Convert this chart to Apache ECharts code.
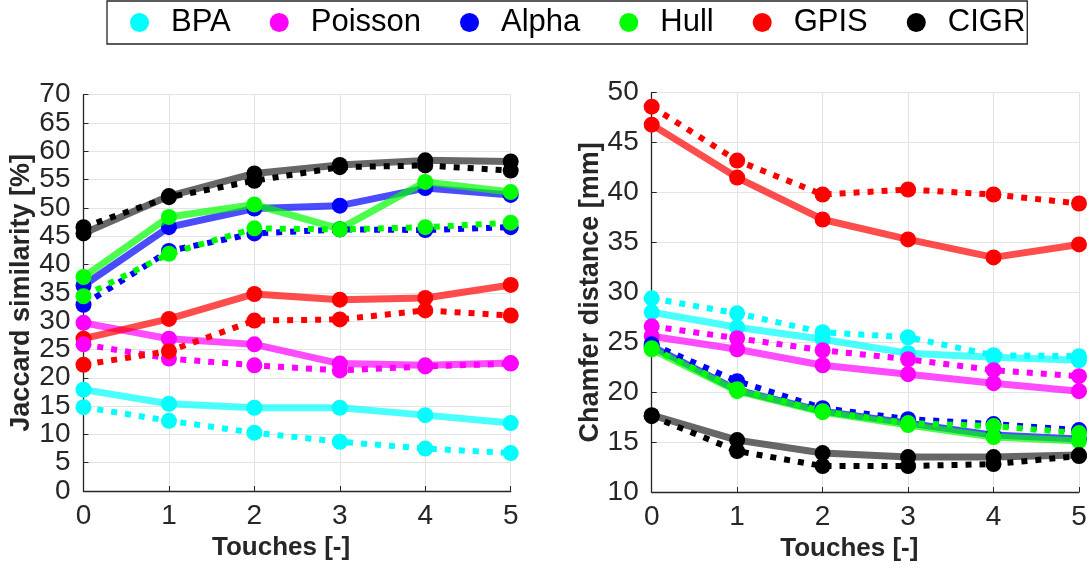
<!DOCTYPE html>
<html>
<head>
<meta charset="utf-8">
<script src="https://cdn.jsdelivr.net/npm/echarts@6/dist/echarts.min.js"></script>
<style>
html,body{margin:0;padding:0;background:#fff;}
#chart{width:1090px;height:569px;}
</style>
</head>
<body>
<div id="chart"></div>
<script>
const touches = [0, 1, 2, 3, 4, 5];
const methods = ['BPA', 'Poisson', 'Alpha', 'Hull', 'GPIS', 'CIGR'];
const colors = ['#00FFFF', '#FF00FF', '#0000FF', '#00FF00', '#FF0000', '#000000'];
const solidLineColors = ['#00FFFF', '#FF00FF', '#0000FF', '#00FF00', '#FF0000', '#262626'];

// Jaccard similarity [%] (left) — solid and dotted
const jaccardSolid = {
  BPA:     [17.9, 15.4, 14.7, 14.7, 13.4, 12.0],
  Poisson: [29.7, 26.9, 25.9, 22.5, 22.2, 22.6],
  Alpha:   [36.3, 46.6, 49.9, 50.4, 53.5, 52.3],
  Hull:    [37.8, 48.4, 50.6, 46.3, 54.6, 52.8],
  GPIS:    [26.9, 30.4, 34.8, 33.8, 34.1, 36.4],
  CIGR:    [45.5, 52.1, 56.1, 57.6, 58.4, 58.2]
};
const jaccardDotted = {
  BPA:     [14.8, 12.4, 10.3, 8.7, 7.5, 6.7],
  Poisson: [25.9, 23.4, 22.2, 21.3, 22.0, 22.5],
  Alpha:   [32.9, 42.4, 45.5, 46.2, 46.1, 46.6],
  Hull:    [34.4, 41.9, 46.4, 46.2, 46.6, 47.4],
  GPIS:    [22.3, 24.7, 30.1, 30.3, 31.9, 31.0],
  CIGR:    [46.6, 51.9, 54.8, 57.2, 57.5, 56.6]
};
// Chamfer distance [mm] (right) — solid and dotted
const chamferSolid = {
  BPA:     [28.0, 26.5, 25.3, 23.9, 23.5, 23.2],
  Poisson: [25.6, 24.3, 22.7, 21.8, 20.9, 20.1],
  Alpha:   [24.6, 20.2, 18.1, 16.9, 15.7, 15.3],
  Hull:    [24.3, 20.1, 18.0, 16.7, 15.5, 15.1],
  GPIS:    [46.8, 41.5, 37.3, 35.3, 33.5, 34.8],
  CIGR:    [17.7, 15.2, 13.9, 13.5, 13.5, 13.7]
};
const chamferDotted = {
  BPA:     [29.4, 27.9, 26.0, 25.5, 23.7, 23.6],
  Poisson: [26.6, 25.4, 24.2, 23.3, 22.2, 21.6],
  Alpha:   [24.8, 21.1, 18.4, 17.3, 16.8, 16.2],
  Hull:    [24.4, 20.3, 18.1, 16.9, 16.6, 15.9],
  GPIS:    [48.6, 43.2, 39.8, 40.3, 39.8, 38.9],
  CIGR:    [17.6, 14.1, 12.6, 12.6, 12.8, 13.6]
};

const leftTicks = {min: 0, max: 70, interval: 5};
const rightTicks = {min: 10, max: 50, interval: 5};
const xTicks = {min: 0, max: 5, interval: 1};

const tickColor = '#262626';
const fontFam = '"Liberation Sans", Arial, Helvetica, sans-serif';

function xAxisDef(gridIndex) {
  return {
    type: 'value', gridIndex: gridIndex, min: xTicks.min, max: xTicks.max, interval: xTicks.interval,
    name: 'Touches [-]', nameLocation: 'middle', nameGap: 44,
    nameTextStyle: {fontSize: 26, fontWeight: 'bold', color: tickColor, fontFamily: fontFam, padding: [0, 32, 0, 0]},
    axisLine: {show: true, onZero: false, lineStyle: {color: tickColor, width: 1.3}},
    axisTick: {show: true, inside: true, length: 5, lineStyle: {color: tickColor}},
    axisLabel: {fontSize: 28, color: tickColor, fontFamily: fontFam, margin: 11},
    splitLine: {show: true, lineStyle: {color: '#e3e3e3', width: 1}}
  };
}
function yAxisDef(gridIndex, ticks, name, gap, pad) {
  return {
    type: 'value', gridIndex: gridIndex, min: ticks.min, max: ticks.max, interval: ticks.interval,
    name: name, nameLocation: 'middle', nameGap: gap,
    nameTextStyle: {fontSize: 27, fontWeight: 'bold', color: tickColor, fontFamily: fontFam, padding: pad},
    axisLine: {show: true, onZero: false, lineStyle: {color: tickColor, width: 1.3}},
    axisTick: {show: true, inside: true, length: 5, lineStyle: {color: tickColor}},
    axisLabel: {fontSize: 28, color: tickColor, fontFamily: fontFam, margin: 13},
    splitLine: {show: true, lineStyle: {color: '#e3e3e3', width: 1}}
  };
}

const series = [];
function addSeries(gridIdx, solid, dotted) {
  methods.forEach((m, i) => {
    series.push({
      name: m, type: 'line', xAxisIndex: gridIdx, yAxisIndex: gridIdx,
      data: touches.map((t, k) => [t, solid[m][k]]),
      symbol: 'circle', symbolSize: 16,
      itemStyle: {color: colors[i]},
      lineStyle: {color: solidLineColors[i], width: 7, opacity: 0.7},
      z: 2 + i, animation: false
    });
  });
  methods.forEach((m, i) => {
    series.push({
      name: m + ' (dotted)', type: 'line', xAxisIndex: gridIdx, yAxisIndex: gridIdx,
      data: touches.map((t, k) => [t, dotted[m][k]]),
      symbol: 'circle', symbolSize: 16,
      itemStyle: {color: colors[i]},
      lineStyle: {color: colors[i], width: 6, type: [6, 8], cap: 'butt'},
      z: 10 + i, animation: false
    });
  });
}
addSeries(0, jaccardSolid, jaccardDotted);
addSeries(1, chamferSolid, chamferDotted);

const chart = echarts.init(document.getElementById('chart'), null, {renderer: 'canvas'});
chart.setOption({
  backgroundColor: '#ffffff',
  animation: false,
  legend: {
    data: methods,
    left: 107, top: 1,
    orient: 'horizontal',
    icon: 'circle',
    itemWidth: 19, itemHeight: 19,
    itemGap: 39,
    padding: [6, 2, 6, 23],
    borderColor: '#262626', borderWidth: 1.3,
    textStyle: {fontSize: 31, color: '#000', fontFamily: fontFam, padding: [0, 0, 0, 17]},
    selectedMode: false
  },
  grid: [
    {left: 83.5, top: 94.7, width: 427.2, height: 396.3, containLabel: false},
    {left: 651.7, top: 92.7, width: 427.3, height: 399.3, containLabel: false}
  ],
  xAxis: [xAxisDef(0), xAxisDef(1)],
  yAxis: [
    yAxisDef(0, leftTicks, 'Jaccard similarity [%]', 44, [0, 0, 0, 0]),
    yAxisDef(1, rightTicks, 'Chamfer distance [mm]', 42, [0, 0, 0, 0])
  ],
  series: series
});
</script>
</body>
</html>
